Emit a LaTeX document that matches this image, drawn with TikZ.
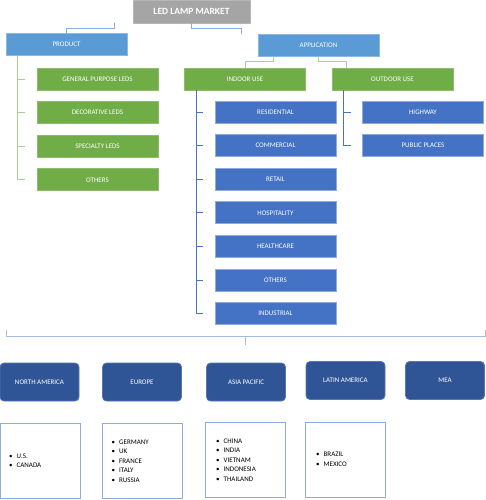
\documentclass[tikz,border=0pt]{standalone}
\usepackage{fontspec}
\setmainfont{Carlito}
\usepackage{xcolor}
\definecolor{titlegray}{HTML}{A5A5A5}
\definecolor{skyblue}{HTML}{5B9BD5}
\definecolor{leafgreen}{HTML}{70AD47}
\definecolor{midblue}{HTML}{4472C4}
\definecolor{darkblue}{HTML}{2F5597}
\definecolor{linegreen}{HTML}{A9D18E}
\definecolor{lineblue}{HTML}{8FAADC}

\begin{document}
\begin{tikzpicture}[x=1pt,y=-1pt,
  box/.style={minimum width=121pt,minimum height=22pt,inner sep=0pt,text=white,
    line width=0.8pt,font=\fontsize{7}{8}\selectfont},
  region/.style={box,minimum width=79pt,minimum height=38pt,fill=darkblue,
    draw=darkblue!80,rounded corners=4pt},
  clist/.style={draw=lineblue,line width=1pt,minimum width=80pt,minimum height=75pt,inner sep=0pt},
  items/.style={anchor=west,align=left,inner sep=0pt,font=\fontsize{7}{9.5}\selectfont},
  link/.style={draw=lineblue,line width=0.8pt}]
\useasboundingbox (0,0) rectangle (486,500);

% top level
\node[box,minimum width=117pt,minimum height=23pt,fill=titlegray,draw=titlegray!80,
  font=\fontsize{9.5}{10}\selectfont\bfseries] (market) at (191.5,11.5) {LED LAMP MARKET};
\node[box,fill=skyblue,draw=skyblue!70] (product) at (66.5,44.5) {PRODUCT};
\node[box,fill=skyblue,draw=skyblue!70] (application) at (318.5,45) {APPLICATION};
\draw[link] ([xshift=-18pt]market.south west) -- ++(0,5) -| (product.north);
\draw[link] (market.south) -- ++(0,5) -| ([xshift=-16pt]application.north west);

% product branch
\coordinate (ptrunk) at ([xshift=12pt]product.south west);
\foreach\t [count=\i] in {GENERAL PURPOSE  LEDS,DECORATIVE LEDS,SPECIALTY LEDS,OTHERS}{
	\node[box,fill=leafgreen,draw=leafgreen!80] (prod\i) at (97.5,79+33.6*\i-33.6) {\t};
	\draw[draw=linegreen,line width=0.8pt] (ptrunk |- prod\i.west) -- ++(7,0);
}
\draw[draw=linegreen,line width=0.8pt] (ptrunk) -- (ptrunk |- prod4.west);

% application branch
\node[box,fill=leafgreen,draw=leafgreen!80] (indoor) at (245,79) {INDOOR USE};
\node[box,fill=leafgreen,draw=leafgreen!80] (outdoor) at (392.5,79) {OUTDOOR USE};
\draw[draw=linegreen,line width=0.8pt] ([xshift=16pt]application.south west) -- ++(0,5) -| (indoor.north);
\draw[draw=linegreen,line width=0.8pt] (application.south) -- ++(0,5) -| ([xshift=15pt]outdoor.north west);

\coordinate (itrunk) at ([xshift=12pt]indoor.south west);
\foreach\t [count=\i] in {RESIDENTIAL,COMMERCIAL,RETAIL,HOSPITALITY,HEALTHCARE,OTHERS,INDUSTRIAL}{
	\node[box,fill=midblue,draw=lineblue] (in\i) at (275.5,112+33.6*\i-33.6) {\t};
	\draw[draw=midblue,line width=0.8pt] (itrunk |- in\i.west) -- ++(7,0);
}
\draw[draw=midblue,line width=0.8pt] (itrunk) -- (itrunk |- in7.west);

\coordinate (otrunk) at ([xshift=12pt]outdoor.south west);
\foreach\t [count=\i] in {HIGHWAY,PUBLIC PLACES}{
	\node[box,fill=midblue,draw=lineblue] (out\i) at (423,112+33.6*\i-33.6) {\t};
	\draw[draw=midblue,line width=0.8pt] (otrunk |- out\i.west) -- ++(7,0);
}
\draw[draw=midblue,line width=0.8pt] (otrunk) -- (otrunk |- out2.west);

% regions
\coordinate (bleft) at (6,330);
\coordinate (bright) at (485,330);
\coordinate (bmid) at (245,345);
\draw[link,draw=lineblue!80] (bleft) -- ++(0,6) -| (bright);
\draw[link,draw=lineblue!80] (bmid) -- ++(0,-9);

\node[region] (na) at (39.5,382) {NORTH  AMERICA};
\node[region] (eu) at (142,382) {EUROPE};
\node[region] (ap) at (246,382) {ASIA PACIFIC};
\node[region] (la) at (345.5,380.5) {LATIN AMERICA};
\node[region] (mea) at (445,380.5) {MEA};

\node[clist] (naBox) at (40.5,460.5) {};
\node[clist] (euBox) at (142,461) {};
\node[clist] (apBox) at (245.5,460) {};
\node[clist] (laBox) at (345.5,459.5) {};

\node[items] (naList) at ([xshift=9pt]naBox.west) {\textbullet\hspace{4pt}U.S.\\\textbullet\hspace{4pt}CANADA};
\node[items] (euList) at ([xshift=10pt]euBox.west) {\textbullet\hspace{4pt}GERMANY\\\textbullet\hspace{4pt}UK\\\textbullet\hspace{4pt}FRANCE\\\textbullet\hspace{4pt}ITALY\\\textbullet\hspace{4pt}RUSSIA};
\node[items] (apList) at ([xshift=11pt]apBox.west) {\textbullet\hspace{4pt}CHINA\\\textbullet\hspace{4pt}INDIA\\\textbullet\hspace{4pt}VIETNAM\\\textbullet\hspace{4pt}INDONESIA\\\textbullet\hspace{4pt}THAILAND};
\node[items] (laList) at ([xshift=11pt]laBox.west) {\textbullet\hspace{4pt}BRAZIL\\\textbullet\hspace{4pt}MEXICO};
\end{tikzpicture}
\end{document}
